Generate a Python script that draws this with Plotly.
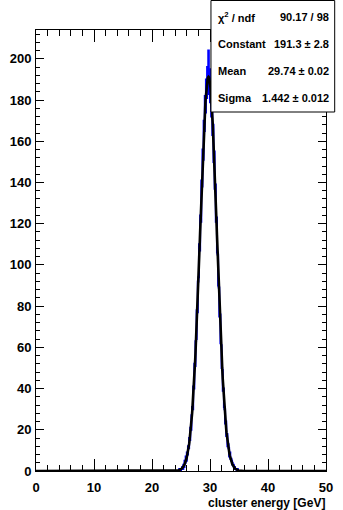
import numpy as np
import plotly.graph_objects as go

# ---- data ----
bin_width = 0.1
x_min, x_max = 0.0, 50.0
first_bin_center = 24.45
counts_peak = [
    0, 0, 0, 1, 0, 0, 1, 1,
    2, 1, 3, 2, 5, 4, 7, 5,
    9, 8, 12, 11, 16, 15, 21, 20,
    27, 31, 30, 41, 40, 52, 51, 63,
    64, 78, 77, 92, 94, 110, 107, 124,
    121, 141, 138, 156, 151, 170, 165, 182,
    174, 190, 181, 196, 186, 204,
    183, 195, 179, 187, 172, 178, 163, 168,
    150, 155, 137, 139, 121, 123, 106, 105,
    90, 89, 75, 76, 62, 61, 50, 49,
    39, 40, 31, 30, 23, 24, 17, 18,
    12, 13, 11, 7, 9, 6, 6, 5,
    4, 3, 3, 2, 2, 1, 1, 1, 0, 1,
]
fit_constant = 191.3
fit_mean = 29.74
fit_sigma = 1.442
stats_labels = ["χ<sup>2</sup> / ndf", "Constant", "Mean", "Sigma"]
stats_values = ["90.17 / 98", "191.3 ± 2.8", "29.74 ± 0.02", "1.442 ± 0.012"]
x_ticks = [0, 10, 20, 30, 40, 50]
y_ticks = [0, 20, 40, 60, 80, 100, 120, 140, 160, 180, 200]
x_title = "cluster energy [GeV]"
y_max = 214

# ---- build histogram ----
nbins = int(round((x_max - x_min) / bin_width))
edges = np.linspace(x_min, x_max, nbins + 1)
counts = np.zeros(nbins)
i0 = int(round((first_bin_center - bin_width / 2 - x_min) / bin_width))
counts[i0:i0 + len(counts_peak)] = counts_peak
hx = np.append(edges[:-1], edges[-1])
hy = np.append(counts, counts[-1])

fx = np.linspace(x_min, x_max, 1001)
fy = fit_constant * np.exp(-0.5 * ((fx - fit_mean) / fit_sigma) ** 2)

W, H = 343, 510
L, R, T, B = 33, 10, 30, 39
PW, PH = W - L - R, H - T - B


def px(xp):
    return (xp - L) / PW


def py(yp):
    return (H - B - yp) / PH


FONT = "Liberation Sans, Arial, Helvetica, sans-serif"

fig = go.Figure()
fig.add_trace(go.Scatter(x=hx, y=hy, mode="lines", line=dict(color="#0000ff", width=2, shape="hv"),
                         hoverinfo="skip", showlegend=False))
fig.add_trace(go.Scatter(x=fx, y=fy, mode="lines", line=dict(color="black", width=2.6),
                         hoverinfo="skip", showlegend=False))

# stats box
fig.add_shape(type="rect", xref="paper", yref="paper",
              x0=px(214), x1=px(342), y0=py(112), y1=py(0.5),
              line=dict(color="black", width=1), fillcolor="white", layer="above")
rows_y = [17, 44, 71, 98]
for lab, val, yy in zip(stats_labels, stats_values, rows_y):
    fig.add_annotation(xref="paper", yref="paper", x=px(219), y=py(yy), text="<b>" + lab + "</b>",
                       showarrow=False, xanchor="left", yanchor="middle",
                       font=dict(family=FONT, size=11, color="black"))
    fig.add_annotation(xref="paper", yref="paper", x=px(338), y=py(yy), text="<b>" + val + "</b>",
                       showarrow=False, xanchor="right", yanchor="middle",
                       font=dict(family=FONT, size=11, color="black"))

fig.add_annotation(xref="paper", yref="paper", x=px(334), y=py(503), text="<b>" + x_title + "</b>",
                   showarrow=False, xanchor="right", yanchor="middle",
                   font=dict(family=FONT, size=12, color="black"))

fig.update_layout(
    width=W, height=H, margin=dict(l=L, r=R, t=T, b=B, pad=0),
    paper_bgcolor="white", plot_bgcolor="white",
    font=dict(family=FONT, color="black"),
    xaxis=dict(range=[x_min, x_max], tickvals=x_ticks, ticktext=[f"<b>{v}</b>" for v in x_ticks],
               ticks="inside", ticklen=12, tickwidth=1,
               tickcolor="black", showline=True, linecolor="black", linewidth=1, mirror="ticks",
               showgrid=False, zeroline=False, ticklabelstandoff=4,
               tickfont=dict(family=FONT, size=13, color="black"),
               minor=dict(dtick=2, ticks="inside", ticklen=6, tickcolor="black", showgrid=False)),
    yaxis=dict(range=[0, y_max], tickvals=y_ticks, ticktext=[f"<b>{v}</b>" for v in y_ticks],
               ticks="inside", ticklen=8, tickwidth=1,
               tickcolor="black", showline=True, linecolor="black", linewidth=1, mirror="ticks",
               showgrid=False, zeroline=False, ticklabelstandoff=1,
               tickfont=dict(family=FONT, size=13, color="black"),
               minor=dict(dtick=4, ticks="inside", ticklen=4, tickcolor="black", showgrid=False)),
)

fig.write_html("out.html", config={"displayModeBar": False},
               post_script="document.body.style.margin='0px';document.body.style.overflow='hidden';")
